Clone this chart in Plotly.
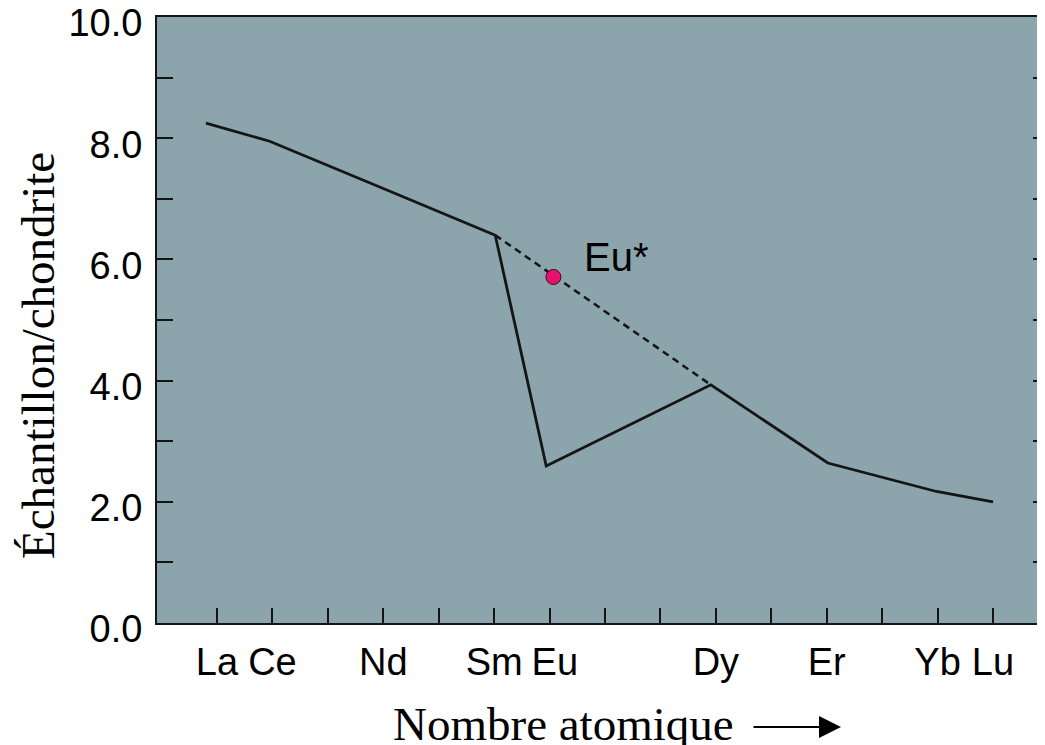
import plotly.graph_objects as go

# ---- data ----
elements = ["La", "Ce", "Nd", "Sm", "Eu", "Dy", "Er", "Yb", "Lu"]
atomic_pos = [56.80, 57.95, 60.0, 62.02, 62.94, 65.91, 68.02, 69.98, 71.0]
ratio = [8.25, 7.95, 7.17, 6.40, 2.59, 3.93, 2.64, 2.17, 2.00]

interp_elements = ["Sm", "Dy"]
interp_pos = [62.02, 65.91]
interp_ratio = [6.40, 3.93]

eu_star_pos = [63.07]
eu_star_ratio = [5.71]
eu_star_label = "Eu*"

x_tick_vals = list(range(57, 72))
x_tick_text = ["La", "Ce", "", "Nd", "", "Sm", "\u00a0Eu", "", "", "Dy", "", "Er", "", "Yb", "Lu"]
y_tick_vals = list(range(0, 11))
y_tick_text = ["0.0", "", "2.0", "", "4.0", "", "6.0", "", "8.0", "", "10.0"]

x_title = "Nombre atomique"
y_title = "Échantillon/chondrite"

# ---- style ----
SANS = "Liberation Sans, Arial, Helvetica, sans-serif"
SERIF = "Liberation Serif, Times New Roman, serif"
INK = "#151515"
BG = "#8ca4ab"

# page has an 8px body margin; figure sized to fit the window
OFF = 8
W, H = 1045 - OFF, 745 - OFF
# plot box in window pixels
PL, PR, PT, PB = 157, 1045, 17, 623
ML, MR, MT, MB = PL - OFF, (W + OFF) - PR, PT - OFF, (H + OFF) - PB
plot_w = PR - PL
plot_h = PB - PT


def px(sx):
    return (sx - PL) / plot_w


def py(sy):
    return (PB - sy) / plot_h


fig = go.Figure()

fig.add_trace(go.Scatter(
    x=interp_pos, y=interp_ratio, mode="lines",
    line=dict(color=INK, width=2.5, dash="7px,5px"),
    hoverinfo="skip", showlegend=False))

fig.add_trace(go.Scatter(
    x=atomic_pos, y=ratio, mode="lines", text=elements,
    line=dict(color=INK, width=2.8),
    showlegend=False))

fig.add_trace(go.Scatter(
    x=eu_star_pos, y=eu_star_ratio, mode="markers",
    marker=dict(size=15, color="#e8106e", line=dict(color="#3a1020", width=1)),
    showlegend=False))

# invisible trace to register the right-hand tick axis
fig.add_trace(go.Scatter(x=[x_tick_vals[0]], y=[y_tick_vals[0]], yaxis="y2",
                         mode="markers", marker=dict(opacity=0),
                         hoverinfo="skip", showlegend=False))

fig.add_annotation(x=eu_star_pos[0], y=eu_star_ratio[0], xref="x", yref="y",
                   text=eu_star_label, showarrow=False, xanchor="left", yanchor="middle",
                   xshift=29, yshift=20, font=dict(family=SANS, size=40, color="black"))

# axis titles as annotations
fig.add_annotation(x=px(38), y=py(356), xref="paper", yref="paper",
                   text=y_title, textangle=-90, showarrow=False,
                   xanchor="center", yanchor="middle",
                   font=dict(family=SERIF, size=47, color="black"))
fig.add_annotation(x=px(563), y=py(724), xref="paper", yref="paper",
                   text=x_title, showarrow=False, xanchor="center", yanchor="middle",
                   font=dict(family=SERIF, size=47, color="black"))
# arrow after the x title
fig.add_annotation(x=px(841), y=py(727),
                   xref="paper", yref="paper", axref="pixel", ayref="pixel",
                   ax=-89, ay=0,
                   text="", showarrow=True, arrowhead=2, arrowsize=2.2, arrowwidth=2,
                   arrowcolor="black")

fig.update_layout(
    width=W, height=H,
    margin=dict(l=ML, r=MR, t=MT, b=MB, pad=0, autoexpand=False),
    paper_bgcolor="white", plot_bgcolor=BG,
    showlegend=False,
    xaxis=dict(range=[55.918, 71.938], tickvals=x_tick_vals, ticktext=x_tick_text,
               tickangle=0,
               ticks="inside", ticklen=15, tickwidth=2, tickcolor=INK,
               showline=True, linecolor=INK, linewidth=2, mirror=True,
               showgrid=False, zeroline=False, automargin=False,
               ticklabelstandoff=4, ticklabeloverflow="allow",
               tickfont=dict(family=SANS, size=38, color="black")),
    yaxis=dict(range=[0, 10], tickvals=y_tick_vals, ticktext=y_tick_text,
               ticks="inside", ticklen=16, tickwidth=2, tickcolor=INK,
               showline=True, linecolor=INK, linewidth=2, mirror=False,
               showgrid=False, zeroline=False, automargin=False,
               ticklabelstandoff=5, ticklabelshift=6, ticklabeloverflow="allow",
               tickfont=dict(family=SANS, size=38, color="black")),
    yaxis2=dict(range=[0, 10], overlaying="y", side="right", tickvals=y_tick_vals,
                ticks="inside", ticklen=12, tickwidth=2, tickcolor=INK,
                showticklabels=False, showline=False, showgrid=False, zeroline=False,
                automargin=False),
)

fig.write_html("out.html")
